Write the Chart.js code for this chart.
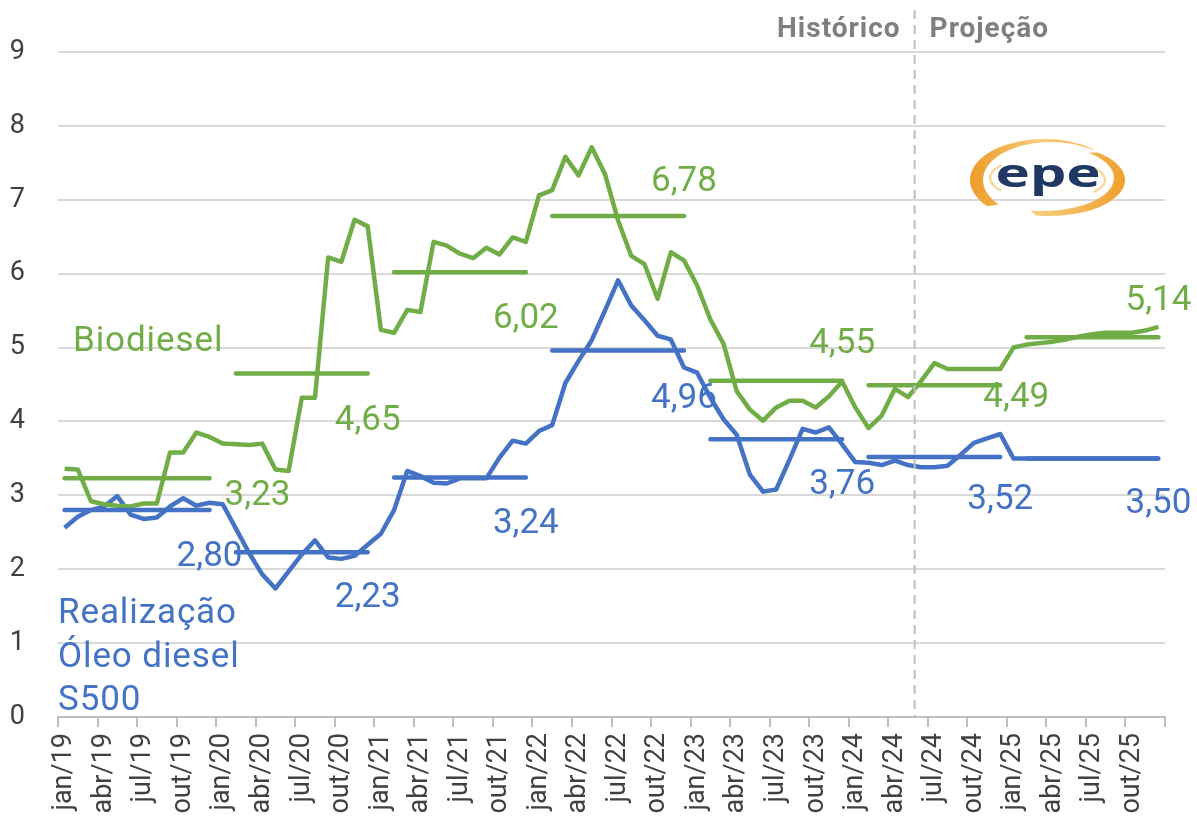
<!DOCTYPE html>
<html><head><meta charset="utf-8">
<script src="https://cdn.jsdelivr.net/npm/chart.js@4.4.1/dist/chart.umd.min.js"></script>
<style>html,body{margin:0;padding:0;background:#fff;overflow:hidden}#wrap{width:1197px;height:817px;position:relative}</style>
</head><body><div id="wrap"><canvas id="c" width="1197" height="817"></canvas></div>
<script>
// ---------- DATA ----------
const monthNames = ['jan','fev','mar','abr','mai','jun','jul','ago','set','out','nov','dez'];
const yearNames = ['19','20','21','22','23','24','25'];
const categories = yearNames.flatMap(y => monthNames.map(m => m + '/' + y));

const biodiesel = [
  3.36,3.35,2.92,2.88,2.86,2.85,2.89,2.89,3.58,3.58,3.85,3.79,
  3.70,3.69,3.68,3.70,3.35,3.33,4.32,4.32,6.22,6.16,6.73,6.64,
  5.24,5.20,5.51,5.48,6.43,6.38,6.27,6.21,6.35,6.26,6.49,6.43,
  7.06,7.13,7.58,7.33,7.71,7.35,6.72,6.24,6.13,5.66,6.29,6.18,
  5.84,5.38,5.05,4.41,4.16,4.01,4.19,4.28,4.28,4.19,4.34,4.54,
  4.19,3.91,4.08,4.44,4.33,4.55,4.79,4.71,4.71,4.71,4.71,4.71,
  5.00,5.04,5.06,5.08,5.11,5.15,5.18,5.20,5.20,5.20,5.23,5.28
];
const dieselS500 = [
  2.56,2.71,2.80,2.85,2.99,2.74,2.68,2.70,2.85,2.96,2.86,2.90,
  2.88,2.55,2.22,1.93,1.74,1.97,2.20,2.39,2.16,2.14,2.18,2.33,
  2.48,2.80,3.33,3.26,3.17,3.16,3.23,3.23,3.23,3.51,3.74,3.70,
  3.87,3.95,4.52,4.82,5.10,5.50,5.91,5.57,5.37,5.16,5.11,4.73,
  4.66,4.32,4.03,3.82,3.28,3.05,3.08,3.48,3.90,3.85,3.92,3.69,
  3.45,3.44,3.41,3.47,3.41,3.38,3.38,3.40,3.55,3.71,3.77,3.83,
  3.50,3.50,3.50,3.50,3.50,3.50,3.50,3.50,3.50,3.50,3.50,3.50
];
const biodieselAnnualAvg = [3.23, 4.65, 6.02, 6.78, 4.55, 4.49, 5.14];
const dieselAnnualAvg    = [2.80, 2.23, 3.24, 4.96, 3.76, 3.52, 3.50];
const yTickValues = [0,1,2,3,4,5,6,7,8,9];
const projectionStartIndex = 65; // jun/24

// ---------- LAYOUT (label offsets in px from segment end) ----------
const bioLabelOffsets    = [[48,14],[0,44],[0,43],[0,-38],[0,-40],[16,9],[0,-40]];
const dieselLabelOffsets = [[0,43],[0,42],[0,43],[0,45],[0,42],[0,40],[0,42]];

const GREEN = '#70AD47', BLUE = '#4472C4';
const FONT = 'Roboto';

function avgSeries(avgs){
  const arr = categories.map(() => null);
  avgs.forEach((v, y) => {
    const start = y === 0 ? 0 : 12*y + 1;
    for (let i = start; i <= 12*y + 11; i++) arr[i] = v;
  });
  return arr;
}
const fmt = v => v.toFixed(2).replace('.', ',');

const overlay = {
  id: 'overlay',
  beforeDatasetsDraw(chart){
    const {ctx, scales:{x, y}} = chart;
    ctx.save();
    ctx.font = '35px ' + FONT;
    ctx.textAlign = 'center';
    ctx.textBaseline = 'alphabetic';
    const draw = (avgs, offs, color) => {
      ctx.fillStyle = color;
      avgs.forEach((v, k) => {
        const px = x.getPixelForValue(12*k + 11) + offs[k][0];
        const py = y.getPixelForValue(v) + offs[k][1] + 12.5;
        ctx.fillText(fmt(v), px, py);
      });
    };
    draw(biodieselAnnualAvg, bioLabelOffsets, GREEN);
    draw(dieselAnnualAvg, dieselLabelOffsets, BLUE);
    ctx.restore();
  },
  afterDatasetsDraw(chart){
    const {ctx, scales:{x}} = chart;
    const px = (x.getPixelForValue(projectionStartIndex - 1) + x.getPixelForValue(projectionStartIndex)) / 2;
    ctx.save();
    ctx.strokeStyle = '#BFBFBF';
    ctx.lineWidth = 2;
    ctx.setLineDash([9, 6]);
    ctx.beginPath();
    ctx.moveTo(px, 10);
    ctx.lineTo(px, 717);
    ctx.stroke();
    ctx.restore();
  },
  afterDraw(chart){
    const {ctx, scales:{x}} = chart;
    const px = (x.getPixelForValue(projectionStartIndex - 1) + x.getPixelForValue(projectionStartIndex)) / 2;
    ctx.save();
    ctx.fillStyle = '#7F7F7F';
    ctx.font = 'bold 28px ' + FONT;
    ctx.letterSpacing = '1px';
    ctx.textBaseline = 'alphabetic';
    ctx.textAlign = 'right';
    ctx.fillText('Histórico', px - 14, 37);
    ctx.textAlign = 'left';
    ctx.fillText('Projeção', px + 15, 37);

    ctx.font = '35px ' + FONT;
    ctx.letterSpacing = '0.9px';
    ctx.fillStyle = GREEN;
    ctx.fillText('Biodiesel', 73, 351);
    ctx.fillStyle = BLUE;
    ctx.fillText('Realização', 58, 623);
    ctx.fillText('Óleo diesel', 58, 667);
    ctx.fillText('S500', 58, 710);
    ctx.restore();
    drawLogo(ctx, 1046, 177);
  }
};

function drawLogo(ctx, cx, cy){
  ctx.save();
  const d = Math.PI/180;
  const grad = ctx.createLinearGradient(cx - 80, cy, cx + 80, cy);
  grad.addColorStop(0, '#EC9A22');
  grad.addColorStop(0.45, '#F7CC7A');
  grad.addColorStop(1, '#EFA02C');
  ctx.fillStyle = grad;
  // left/top crescent (thick at left, tapering to top-right)
  ctx.beginPath();
  ctx.ellipse(cx - 2, cy + 3, 74, 41, 0, 140*d, 310*d, false);
  ctx.ellipse(cx + 5, cy + 3, 68, 38, 0, 310*d, 140*d, true);
  ctx.closePath();
  ctx.fill();
  // right/bottom crescent (thick at right)
  ctx.beginPath();
  ctx.ellipse(cx + 3, cy + 3, 76, 36, 0, -50*d, 100*d, false);
  ctx.ellipse(cx - 3, cy + 1, 71, 33, 0, 100*d, -50*d, true);
  ctx.closePath();
  ctx.fill();
  // inner light arcs
  ctx.strokeStyle = '#F6D9A0';
  ctx.lineWidth = 2.5;
  ctx.beginPath();
  ctx.ellipse(cx + 6, cy + 1, 62, 22, 0, 145*d, 215*d, false);
  ctx.stroke();
  ctx.beginPath();
  ctx.ellipse(cx - 4, cy + 3, 63, 21, 0, -35*d, 35*d, false);
  ctx.stroke();
  // text
  ctx.fillStyle = '#1F3864';
  ctx.font = 'bold 40px "Open Sans"';
  ctx.textAlign = 'center';
  ctx.textBaseline = 'alphabetic';
  ctx.translate(cx + 2, cy + 10);
  ctx.scale(1.45, 1);
  ctx.fillText('epe', 0, 0);
  ctx.restore();
}

const tickVis = c => (c.index === undefined || c.index % 3 === 0) ? '#BFBFBF' : 'rgba(0,0,0,0)';

new Chart(document.getElementById('c'), {
  type: 'line',
  data: {
    labels: categories,
    datasets: [
      { label: 'Média Biodiesel', data: avgSeries(biodieselAnnualAvg), borderColor: GREEN, borderWidth: 4.5, pointRadius: 0, spanGaps: false, borderCapStyle: 'round', tension: 0 },
      { label: 'Média S500', data: avgSeries(dieselAnnualAvg), borderColor: BLUE, borderWidth: 4.5, pointRadius: 0, spanGaps: false, borderCapStyle: 'round', tension: 0 },
      { label: 'Biodiesel', data: biodiesel, borderColor: GREEN, borderWidth: 4.5, pointRadius: 0, borderJoinStyle: 'round', tension: 0 },
      { label: 'Realização Óleo diesel S500', data: dieselS500, borderColor: BLUE, borderWidth: 4.5, pointRadius: 0, borderJoinStyle: 'round', tension: 0 }
    ]
  },
  options: {
    responsive: false,
    animation: false,
    devicePixelRatio: 1,
    layout: { padding: { top: 52, right: 30, left: 0, bottom: 0 } },
    plugins: { legend: { display: false }, tooltip: { enabled: false } },
    scales: {
      x: {
        type: 'category',
        offset: true,
        grid: { offset: true, drawOnChartArea: false, drawTicks: true, tickLength: 10, lineWidth: 2, color: tickVis, tickColor: tickVis },
        border: { display: true, color: '#BFBFBF', width: 2 },
        ticks: {
          autoSkip: false, maxRotation: 90, minRotation: 90, padding: 6,
          color: '#404040', font: { family: FONT, size: 27 },
          callback: (v, i) => i % 3 === 0 ? categories[i] : ''
        },
        afterFit: s => { s.height = 100; }
      },
      y: {
        min: 0, max: 9,
        afterBuildTicks: s => { s.ticks = yTickValues.map(v => ({ value: v })); },
        ticks: { padding: 33, color: '#404040', font: { family: FONT, size: 27 } },
        grid: { color: '#D9D9D9', lineWidth: 2, drawTicks: false },
        border: { display: false },
        afterFit: s => { s.width = 58; }
      }
    }
  },
  plugins: [overlay]
});
</script></body></html>
